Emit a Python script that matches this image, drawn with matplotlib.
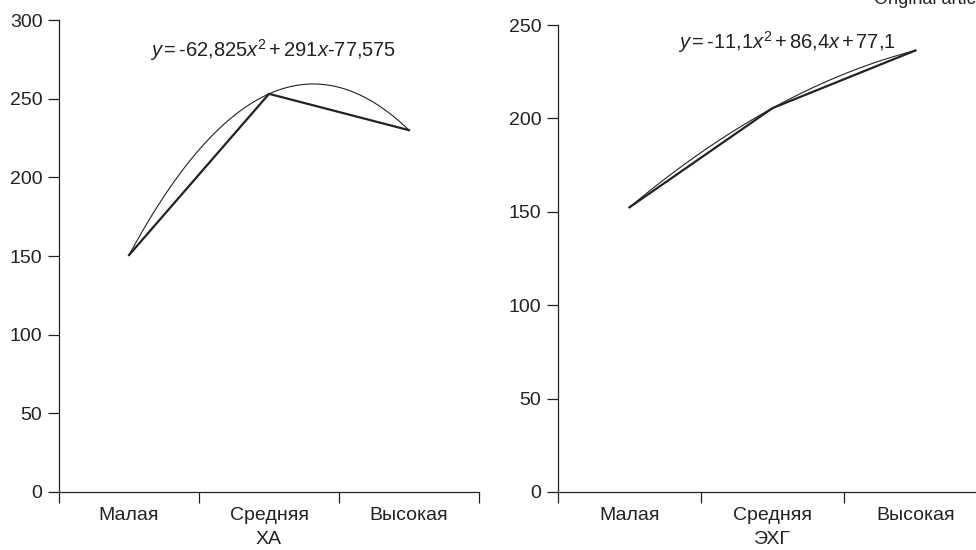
import numpy as np
import matplotlib.pyplot as plt

plt.rcParams['font.family'] = ['Liberation Sans', 'DejaVu Sans']
plt.rcParams['mathtext.fontset'] = 'custom'
plt.rcParams['mathtext.rm'] = 'Liberation Sans'
plt.rcParams['mathtext.it'] = 'Liberation Sans:italic'

categories = ['Малая', 'Средняя', 'Высокая']
xa_values = [150.6, 253.1, 230.0]
ekg_values = [152.4, 205.5, 236.4]
xa_eq = r'$y\,$=$\,$-62,825$x^{2}\,$+$\,$291$x$-77,575'
ekg_eq = r'$y\,$=$\,$-11,1$x^{2}\,$+$\,$86,4$x\,$+$\,$77,1'

ink = '#222222'
fs = 14
fig = plt.figure(figsize=(9.76, 5.5), dpi=100)

def panel(rect, vals, ymax, xlabel, eq, eq_pos):
    ax = fig.add_axes(rect)
    x = np.arange(1, len(vals) + 1)
    ax.plot(x, vals, color=ink, lw=1.6, solid_joinstyle='miter')
    # polynomial trendline (2nd order) through the data
    coef = np.polyfit(x, vals, 2)
    xs = np.linspace(1, len(vals), 200)
    ax.plot(xs, np.polyval(coef, xs), color=ink, lw=0.8)
    ax.set_xlim(0.5, len(vals) + 0.5)
    ax.set_ylim(0, ymax)
    ax.set_yticks(np.arange(0, ymax + 1, 50))
    ax.set_xticks(np.arange(0.5, len(vals) + 1, 1))
    ax.set_xticklabels([])
    ax.set_xticks(x, minor=True)
    ax.set_xticklabels(categories, minor=True)
    ax.tick_params(axis='x', which='minor', length=0, pad=11, labelsize=fs, colors=ink)
    ax.tick_params(axis='x', which='major', length=8, width=0.9, color=ink)
    ax.tick_params(axis='y', length=8, width=0.9, pad=4, labelsize=fs, colors=ink)
    for s in ['top', 'right']:
        ax.spines[s].set_visible(False)
    for s in ['left', 'bottom']:
        ax.spines[s].set_linewidth(0.9)
        ax.spines[s].set_color(ink)
    ax.set_xlabel(xlabel, fontsize=fs, color=ink, labelpad=5)
    ax.text(eq_pos[0], eq_pos[1], eq, ha='center', va='center', fontsize=fs + 0.5, color=ink)
    return ax

panel([0.0605, 0.1055, 0.4303, 0.858], xa_values, 300, 'ХА', xa_eq, (2.03, 281))
panel([0.5717, 0.1055, 0.4395, 0.849], ekg_values, 250, 'ЭХГ', ekg_eq, (2.1, 241))

# caption cut off at the top right corner, as in the source page
fig.text(0.895, 1.0, 'Original article', ha='left', va='center', fontsize=13, color=ink)

fig.savefig('out.png', dpi=100)
